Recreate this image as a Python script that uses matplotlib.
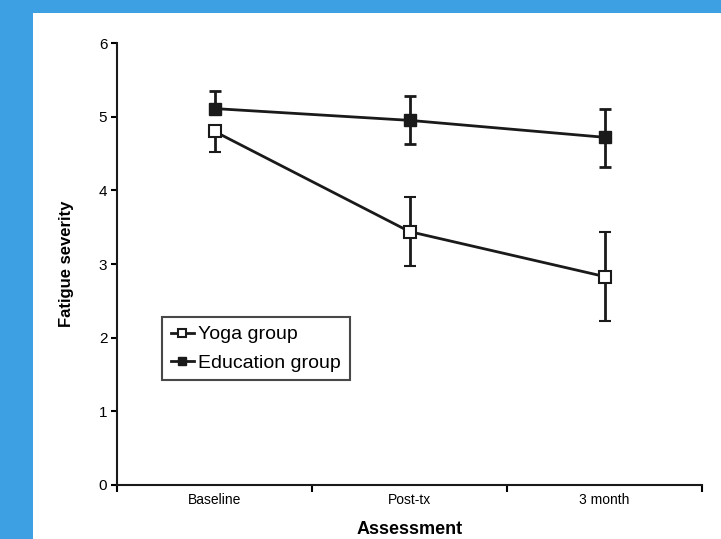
import numpy as np
import matplotlib.pyplot as plt
from matplotlib.patches import Rectangle
from matplotlib.lines import Line2D

plt.rcParams['font.family'] = ['Liberation Sans', 'DejaVu Sans']

categories = ["Baseline", "Post-tx", "3 month"]
yoga_mean = [4.80, 3.44, 2.83]
yoga_err_lo = [0.28, 0.47, 0.61]
yoga_err_hi = [0.0, 0.47, 0.60]
edu_mean = [5.11, 4.95, 4.72]
edu_err_lo = [0.0, 0.32, 0.40]
edu_err_hi = [0.24, 0.33, 0.38]

ink = "#1a1a1a"

fig = plt.figure(figsize=(7.21, 5.39), dpi=100)
fig.patch.set_facecolor("#3DA0E3")
fig.patches.append(Rectangle((33/721, 0), 1 - 33/721, 1 - 13/539, transform=fig.transFigure,
                             facecolor="white", edgecolor="none", zorder=-10))

ax = fig.add_axes([117/721, 54/539, 585/721, 442/539])
ax.set_facecolor("none")
x = np.arange(1, len(categories) + 1)

ax.errorbar(x, edu_mean, yerr=[edu_err_lo, edu_err_hi], color=ink, lw=2,
            marker="s", ms=8, mfc=ink, mec=ink, capsize=4, capthick=2, elinewidth=2)
ax.errorbar(x, yoga_mean, yerr=[yoga_err_lo, yoga_err_hi], color=ink, lw=2,
            marker="s", ms=8, mfc="white", mec=ink, mew=1.5, capsize=4, capthick=2,
            elinewidth=2)

ax.set_xlim(0.5, 3.5)
ax.set_ylim(0, 6)
ax.set_yticks(range(0, 7))
ax.set_xticks([0.5, 1.5, 2.5, 3.5])
ax.set_xticklabels([])
ax.set_xticks(x, minor=True)
ax.set_xticklabels(categories, minor=True, fontsize=10)
ax.tick_params(axis="x", which="minor", length=0, pad=6)
ax.tick_params(axis="x", which="major", length=5, width=1.5, direction="out")
ax.tick_params(axis="y", length=4, width=1.5, labelsize=11, pad=3)
for s in ["top", "right"]:
    ax.spines[s].set_visible(False)
for s in ["left", "bottom"]:
    ax.spines[s].set_linewidth(1.5)
    ax.spines[s].set_color(ink)

ax.set_ylabel("Fatigue severity", fontsize=12, fontweight="bold", labelpad=18)
ax.set_xlabel("Assessment", fontsize=13, fontweight="bold", labelpad=10)

handles = [Line2D([], [], color=ink, lw=2, marker="s", ms=6, mfc="white", mec=ink, mew=1.5),
           Line2D([], [], color=ink, lw=2, marker="s", ms=6, mfc=ink, mec=ink)]
leg = ax.legend(handles, ["Yoga group", "Education group"], loc="upper left",
                bbox_to_anchor=(0.077, 0.38), fontsize=14, frameon=True, fancybox=False,
                edgecolor=ink, handlelength=1.2, handletextpad=0.2, borderpad=0.45,
                labelspacing=0.55, borderaxespad=0)
leg.get_frame().set_linewidth(1.5)

fig.savefig("out.png", dpi=100)
